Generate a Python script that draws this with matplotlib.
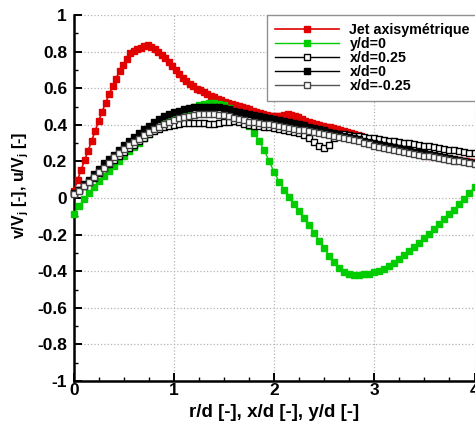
import numpy as np
import matplotlib
matplotlib.use('Agg')
import matplotlib.pyplot as plt
from matplotlib.ticker import MultipleLocator, FuncFormatter

plt.rcParams['font.family'] = ['Liberation Sans', 'DejaVu Sans']
plt.rcParams['font.weight'] = 'bold'
plt.rcParams['axes.unicode_minus'] = False
plt.rcParams['mathtext.fontset'] = 'custom'
plt.rcParams['mathtext.rm'] = 'Liberation Sans:bold'
plt.rcParams['mathtext.it'] = 'Liberation Sans:bold'
plt.rcParams['mathtext.bf'] = 'Liberation Sans:bold'

# Data
# jet: r/d step 0.035, the others: step 0.05 from 0 to 4
jet_step = 0.035
jet = [0.04, 0.098, 0.152, 0.205, 0.258, 0.311, 0.364, 0.42, 0.47, 0.52,
       0.566, 0.61, 0.652, 0.695, 0.728, 0.76, 0.79, 0.806, 0.815, 0.822,
       0.829, 0.834, 0.825, 0.812, 0.797, 0.782, 0.765, 0.744, 0.722, 0.7,
       0.676, 0.654, 0.638, 0.625, 0.611, 0.598, 0.588, 0.578, 0.569, 0.56,
       0.551, 0.543, 0.534, 0.526, 0.519, 0.512, 0.506, 0.501, 0.496, 0.49,
       0.484, 0.478, 0.472, 0.466, 0.46, 0.454, 0.449, 0.446, 0.446, 0.448,
       0.452, 0.458, 0.456, 0.448, 0.44, 0.431, 0.423, 0.415, 0.408, 0.402,
       0.398, 0.394, 0.39, 0.386, 0.382, 0.378, 0.373, 0.368, 0.362, 0.357,
       0.351, 0.344, 0.337, 0.33, 0.323, 0.316, 0.309, 0.303, 0.297, 0.291,
       0.286, 0.28, 0.275, 0.27, 0.265, 0.26, 0.255, 0.25, 0.246, 0.242,
       0.238, 0.234, 0.23, 0.227, 0.224, 0.221, 0.218, 0.215, 0.212, 0.209,
       0.206, 0.203, 0.2, 0.197, 0.194]

y_d0 = [-0.085, -0.045, -0.008, 0.028, 0.06, 0.092, 0.122, 0.15, 0.177, 0.204,
        0.23, 0.255, 0.28, 0.303, 0.326, 0.348, 0.37, 0.39, 0.408, 0.425,
        0.442, 0.457, 0.471, 0.484, 0.496, 0.506, 0.514, 0.518, 0.519, 0.515,
        0.508, 0.494, 0.475, 0.455, 0.43, 0.395, 0.355, 0.31, 0.26, 0.2,
        0.14, 0.088, 0.045, 0.005, -0.032, -0.07, -0.11, -0.15, -0.19, -0.235,
        -0.275, -0.315, -0.352, -0.382, -0.402, -0.415, -0.42, -0.42, -0.418, -0.414,
        -0.405, -0.397, -0.387, -0.372, -0.356, -0.335, -0.314, -0.292, -0.268, -0.245,
        -0.22, -0.195, -0.17, -0.144, -0.117, -0.09, -0.063, -0.033, -0.003, 0.027,
        0.058]

x_d025 = [0.025, 0.045, 0.068, 0.09, 0.112, 0.135, 0.163, 0.185, 0.21, 0.232,
          0.254, 0.272, 0.292, 0.31, 0.33, 0.348, 0.364, 0.376, 0.386, 0.394,
          0.4, 0.405, 0.408, 0.41, 0.411, 0.41, 0.408, 0.407, 0.407, 0.409,
          0.413, 0.417, 0.419, 0.414, 0.406, 0.4, 0.396, 0.393, 0.39, 0.387,
          0.384, 0.378, 0.372, 0.368, 0.362, 0.355, 0.345, 0.33, 0.305, 0.282,
          0.273, 0.292, 0.33, 0.352, 0.347, 0.344, 0.341, 0.338, 0.334, 0.33,
          0.327, 0.323, 0.318, 0.314, 0.31, 0.306, 0.302, 0.298, 0.294, 0.29,
          0.286, 0.282, 0.278, 0.274, 0.27, 0.265, 0.261, 0.256, 0.252, 0.248,
          0.244]

x_d0 = [0.03, 0.045, 0.075, 0.1, 0.13, 0.16, 0.19, 0.215, 0.237, 0.263,
        0.288, 0.313, 0.335, 0.355, 0.377, 0.396, 0.415, 0.432, 0.447, 0.458,
        0.468, 0.476, 0.484, 0.49, 0.495, 0.499, 0.5, 0.5, 0.498, 0.495,
        0.49, 0.485, 0.478, 0.472, 0.466, 0.46, 0.453, 0.447, 0.44, 0.435,
        0.43, 0.425, 0.42, 0.415, 0.41, 0.404, 0.397, 0.39, 0.383, 0.376,
        0.369, 0.362, 0.355, 0.348, 0.341, 0.334, 0.327, 0.32, 0.314, 0.308,
        0.302, 0.296, 0.29, 0.284, 0.278, 0.272, 0.266, 0.26, 0.254, 0.249,
        0.244, 0.238, 0.233, 0.228, 0.223, 0.218, 0.213, 0.208, 0.203, 0.198,
        0.193]

x_dm025 = [0.02, 0.04, 0.065, 0.09, 0.115, 0.14, 0.165, 0.19, 0.222, 0.245,
           0.268, 0.29, 0.307, 0.325, 0.342, 0.358, 0.375, 0.39, 0.405, 0.418,
           0.428, 0.436, 0.443, 0.449, 0.454, 0.457, 0.459, 0.459, 0.458, 0.456,
           0.452, 0.446, 0.438, 0.43, 0.424, 0.418, 0.413, 0.409, 0.405, 0.402,
           0.398, 0.394, 0.389, 0.384, 0.379, 0.374, 0.369, 0.364, 0.36, 0.355,
           0.35, 0.345, 0.34, 0.335, 0.33, 0.325, 0.318, 0.31, 0.302, 0.294,
           0.285, 0.278, 0.272, 0.266, 0.261, 0.255, 0.25, 0.245, 0.24, 0.236,
           0.231, 0.227, 0.222, 0.218, 0.213, 0.209, 0.204, 0.2, 0.195, 0.19,
           0.185]

r_jet = np.arange(len(jet)) * jet_step
r = np.linspace(0, 4, len(y_d0))

fig = plt.figure(figsize=(4.75, 4.32), dpi=100)
ax = fig.add_axes([74 / 475, 51 / 432, 400.5 / 475, 366 / 432])

ax.plot(r_jet, jet, '-s', color='#e00000', lw=1.2, ms=3.8, mec='#e00000',
        label='Jet axisymétrique', clip_on=False, zorder=3)
ax.plot(r, y_d0, '-s', color='#00cc00', lw=1.0, ms=3.8, mec='#00cc00',
        label='y/d=0', clip_on=False, zorder=4)
ax.plot(r, x_d025, '-s', color='black', lw=1.0, ms=4.2, mfc='white', mec='black',
        mew=1.0, label='x/d=0.25', clip_on=False, zorder=5)
ax.plot(r, x_d0, '-s', color='black', lw=1.0, ms=4.2, mfc='black', mec='black',
        label='x/d=0', clip_on=False, zorder=6)
ax.plot(r, x_dm025, '-s', color='#555555', lw=1.0, ms=4.2, mfc='white', mec='#444444',
        mew=1.0, label='x/d=-0.25', clip_on=False, zorder=7)

ax.set_xlim(0, 4)
ax.set_ylim(-1, 1)
ax.xaxis.set_major_locator(MultipleLocator(1))
ax.xaxis.set_minor_locator(MultipleLocator(0.25))
ax.yaxis.set_major_locator(MultipleLocator(0.2))
ax.yaxis.set_minor_locator(MultipleLocator(0.1))
fmt = FuncFormatter(lambda v, p: '%g' % (round(v, 6) + 0.0))
ax.xaxis.set_major_formatter(fmt)
ax.yaxis.set_major_formatter(fmt)

ax.tick_params(which='major', direction='in', length=6, width=1.4, labelsize=12.5)
ax.tick_params(which='minor', direction='in', length=3.2, width=1.0)
ax.tick_params(axis='x', pad=1.5)
ax.tick_params(axis='y', pad=5)

for s in ['top', 'right']:
    ax.spines[s].set_visible(False)
for s in ['left', 'bottom']:
    ax.spines[s].set_linewidth(1.8)

ax.grid(True, which='major', color='#b4b4b4', linestyle=':', lw=0.9)
ax.set_axisbelow(True)

ax.set_xlabel('r/d [-], x/d [-], y/d [-]', fontsize=13.5, fontweight='bold', labelpad=4)
ax.set_ylabel('v/V$_j$ [-], u/V$_j$ [-]', fontsize=11.5, fontweight='bold', labelpad=4)
ax.yaxis.label.set_y(0.535)

leg = ax.legend(loc='upper left', bbox_to_anchor=(0.4825, 1.0), frameon=True,
                fancybox=False, edgecolor='#909090', framealpha=1,
                prop={'size': 10.3, 'weight': 'bold'}, handlelength=4.5,
                handletextpad=0.7, labelspacing=0.0, borderpad=0.55,
                borderaxespad=0, numpoints=1)
leg.get_frame().set_linewidth(1.0)
leg.set_zorder(10)

fig.savefig('out.png', dpi=100)
